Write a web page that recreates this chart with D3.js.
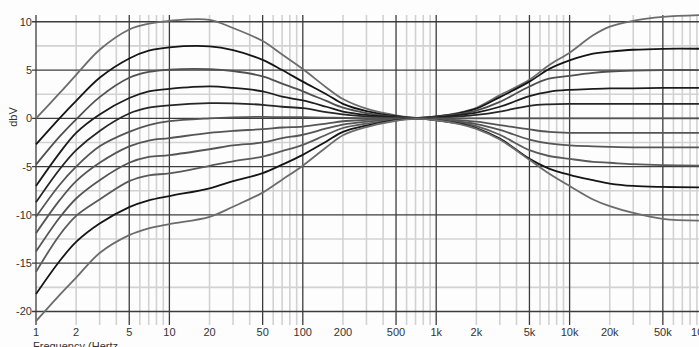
<!DOCTYPE html>
<html>
<head>
<meta charset="utf-8">
<script src="https://cdn.jsdelivr.net/npm/d3@7"></script>
<style>
  body { margin: 0; background: #fdfdfd; }
  svg { display: block; font-family: 'Liberation Sans', Arial, sans-serif; }
  .lbl { font-size: 11px; fill: #333; }
</style>
</head>
<body>
<div class="chart"></div>
<script>
const svgWidth = 699;
const svgHeight = 347;

const freqs = [1, 1.5, 2, 3, 5, 7, 10, 20, 30, 50, 70, 100, 150, 200, 300, 500, 700,
  1000, 1500, 2000, 3000, 5000, 7000, 10000, 15000, 20000, 30000, 50000, 100000];

// gain in dBV, one array per tone-control setting (top to bottom)
const boost10 = [0.0, 2.6, 4.5, 7.1, 9.2, 9.8, 10.1, 10.2, 9.35, 8.0, 6.6, 5.1, 3.2, 2.0, 1.0, 0.3, 0.05,
  0.2, 0.6, 1.1, 2.4, 4.0, 5.5, 6.8, 8.6, 9.5, 10.1, 10.5, 10.7];
const boost7 = [-2.7, 0.0, 1.8, 4.2, 6.2, 7.0, 7.35, 7.45, 7.05, 6.05, 5.0, 3.8, 2.5, 1.5, 0.75, 0.22, 0.04,
  0.2, 0.55, 1.0, 2.2, 3.8, 5.1, 6.0, 6.7, 6.9, 7.1, 7.2, 7.2];
const boost5 = [-4.8, -1.9, -0.1, 2.2, 4.2, 4.8, 5.05, 5.1, 4.9, 4.35, 3.6, 2.8, 1.8, 1.1, 0.55, 0.15, 0.03,
  0.15, 0.45, 0.8, 1.7, 3.3, 4.1, 4.4, 4.7, 4.85, 4.95, 5.0, 5.0];
const boost3 = [-7.0, -3.6, -1.5, 0.4, 2.1, 2.8, 3.05, 3.3, 3.15, 2.8, 2.25, 1.85, 1.2, 0.7, 0.35, 0.1, 0.02,
  0.1, 0.35, 0.6, 1.2, 2.3, 2.75, 2.95, 3.05, 3.1, 3.1, 3.15, 3.15];
const boost1 = [-8.7, -5.3, -3.3, -1.3, 0.5, 1.1, 1.35, 1.57, 1.55, 1.4, 1.2, 1.05, 0.65, 0.4, 0.2, 0.05, 0,
  0.05, 0.2, 0.35, 0.7, 1.3, 1.45, 1.5, 1.5, 1.5, 1.5, 1.5, 1.5];
const flat = [-10.2, -6.9, -5.0, -2.9, -1.4, -0.7, -0.3, 0.0, 0.1, 0.15, 0.12, 0.12, 0.08, 0.05, 0.02, 0, 0,
  0, 0, 0, 0, 0, 0, 0, 0, 0, 0, 0, 0];
const cut1 = [-11.9, -8.5, -6.5, -4.6, -2.9, -2.3, -2.05, -1.5, -1.3, -1.12, -0.95, -0.85, -0.55, -0.3, -0.17, -0.05, 0,
  -0.05, -0.2, -0.35, -0.7, -1.15, -1.4, -1.5, -1.5, -1.5, -1.5, -1.5, -1.5];
const cut3 = [-13.8, -10.3, -8.3, -6.4, -4.6, -4.0, -3.8, -3.2, -2.8, -2.5, -2.05, -1.7, -1.05, -0.65, -0.35, -0.1, -0.02,
  -0.1, -0.35, -0.6, -1.2, -2.2, -2.6, -2.8, -2.9, -2.95, -3.0, -3.0, -3.0];
const cut5 = [-15.9, -12.1, -10.1, -8.4, -6.5, -5.9, -5.7, -4.92, -4.45, -3.96, -3.4, -2.75, -1.7, -1.0, -0.55, -0.15, -0.03,
  -0.15, -0.45, -0.8, -1.7, -3.3, -3.9, -4.2, -4.5, -4.6, -4.75, -4.85, -4.9];
const cut7 = [-18.2, -14.8, -12.8, -10.9, -9.2, -8.5, -8.05, -7.24, -6.5, -5.68, -4.8, -3.78, -2.4, -1.4, -0.75, -0.2, -0.04,
  -0.2, -0.55, -1.0, -2.1, -4.2, -5.2, -5.85, -6.4, -6.75, -7.0, -7.1, -7.15];
const cut10 = [-21.0, -18.3, -16.5, -13.95, -12.1, -11.4, -10.95, -10.2, -9.15, -7.69, -6.35, -4.9, -3.0, -1.75, -0.9, -0.25, -0.05,
  -0.2, -0.6, -1.1, -2.2, -4.3, -5.7, -7.0, -8.4, -9.1, -9.8, -10.4, -10.6];

const xTickValues = [1, 2, 5, 10, 20, 50, 100, 200, 500, 1000, 2000, 5000, 10000, 20000, 50000, 100000];
const xTickLabels = ['1', '2', '5', '10', '20', '50', '100', '200', '500', '1k', '2k', '5k', '10k', '20k', '50k', '100k'];
const yTickValues = [10, 5, 0, -5, -10, -15, -20];

const curves = [
  { values: boost10, color: '#6c6c6c' },
  { values: boost7, color: '#151515' },
  { values: boost5, color: '#505050' },
  { values: boost3, color: '#1c1c1c' },
  { values: boost1, color: '#262626' },
  { values: flat, color: '#555' },
  { values: cut1, color: '#555' },
  { values: cut3, color: '#555' },
  { values: cut5, color: '#5a5a5a' },
  { values: cut7, color: '#151515' },
  { values: cut10, color: '#6c6c6c' }
];

const plot = { left: 36, right: 703, top: 15, bottom: 325 };

const svg = d3.select('.chart')
  .append('svg')
  .attr('width', svgWidth)
  .attr('height', svgHeight);

const x = d3.scaleLog()
  .domain([1, 100000])
  .range([plot.left, plot.right]);

const y = d3.scaleLinear()
  .domain([-21.4, 10.7])
  .range([plot.bottom, plot.top]);

// minor / major grid lines
const minorX = [];
const majorX = [];
for (let d = 1; d <= 10000; d *= 10) {
  [2, 3, 4, 6, 7, 8, 9].forEach(m => minorX.push(d * m));
  majorX.push(d, d * 5);
}
majorX.push(100000);
const minorY = [7.5, 2.5, -2.5, -7.5, -12.5, -17.5];

const grid = svg.append('g');

grid.selectAll('.minor-x')
  .data(minorX)
  .enter()
  .append('line')
  .attr('x1', d => x(d)).attr('x2', d => x(d))
  .attr('y1', plot.top).attr('y2', plot.bottom)
  .attr('stroke', '#d2d2d2')
  .attr('stroke-width', 1.6);

grid.selectAll('.minor-y')
  .data(minorY)
  .enter()
  .append('line')
  .attr('x1', plot.left).attr('x2', svgWidth)
  .attr('y1', d => y(d)).attr('y2', d => y(d))
  .attr('stroke', '#d2d2d2')
  .attr('stroke-width', 1.6);

grid.selectAll('.major-x')
  .data(majorX)
  .enter()
  .append('line')
  .attr('x1', d => x(d)).attr('x2', d => x(d))
  .attr('y1', plot.top).attr('y2', plot.bottom)
  .attr('stroke', '#3c3c3c')
  .attr('stroke-width', 1.3);

grid.selectAll('.major-y')
  .data(yTickValues)
  .enter()
  .append('line')
  .attr('x1', plot.left - 4).attr('x2', svgWidth)
  .attr('y1', d => y(d)).attr('y2', d => y(d))
  .attr('stroke', '#3c3c3c')
  .attr('stroke-width', 1.3);

// curves
const line = d3.line()
  .x((d, i) => x(freqs[i]))
  .y(d => y(d))
  .curve(d3.curveCatmullRom.alpha(0.5));

svg.append('g')
  .selectAll('path')
  .data(curves)
  .enter()
  .append('path')
  .attr('d', d => line(d.values))
  .attr('fill', 'none')
  .attr('stroke', d => d.color)
  .attr('stroke-width', 1.8);

// tick labels
svg.append('g')
  .selectAll('text')
  .data(yTickValues)
  .enter()
  .append('text')
  .attr('class', 'lbl')
  .attr('x', 32)
  .attr('y', d => y(d) + 4)
  .attr('text-anchor', 'end')
  .text(d => d);

svg.append('g')
  .selectAll('text')
  .data(xTickValues)
  .enter()
  .append('text')
  .attr('class', 'lbl')
  .attr('x', d => x(d))
  .attr('y', 336)
  .attr('text-anchor', 'middle')
  .text((d, i) => xTickLabels[i]);

svg.append('text')
  .attr('class', 'lbl')
  .attr('transform', 'translate(17, 117) rotate(-90)')
  .attr('text-anchor', 'middle')
  .text('dbV');

svg.append('text')
  .attr('class', 'lbl')
  .attr('x', 33)
  .attr('y', 350)
  .text('Frequency (Hertz');
</script>
</body>
</html>
